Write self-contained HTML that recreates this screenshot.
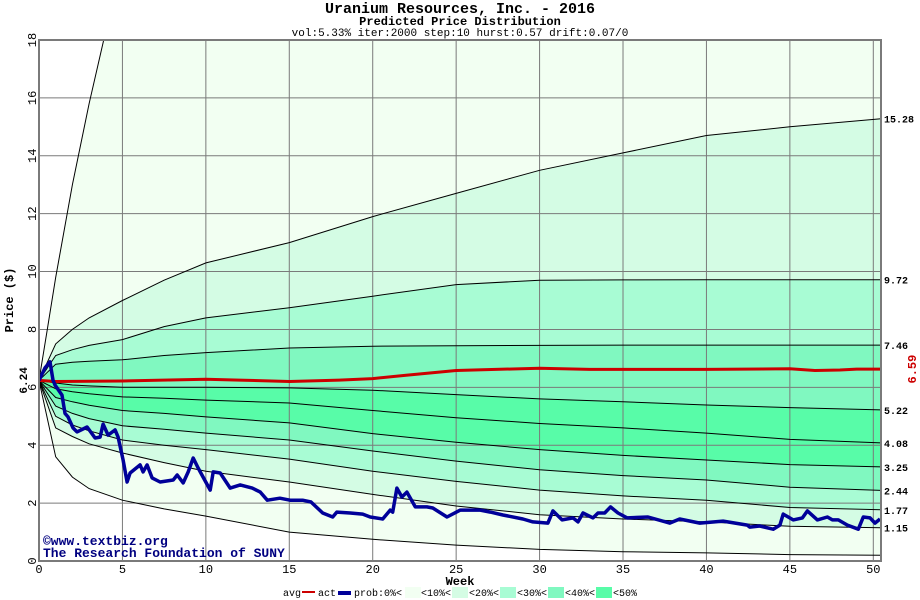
<!DOCTYPE html>
<html><head><meta charset="utf-8"><style>
html,body{margin:0;padding:0;background:#fff;}
svg{display:block;font-family:"Liberation Mono","DejaVu Sans Mono",monospace;}
</style></head><body>
<svg id="chart" width="920" height="600" viewBox="0 0 920 600">
<text x="460" y="13" text-anchor="middle" font-size="15" font-weight="bold">Uranium Resources, Inc. - 2016</text>
<text x="460" y="25" text-anchor="middle" font-size="12" font-weight="bold">Predicted Price Distribution</text>
<text x="460" y="36" text-anchor="middle" font-size="11">vol:5.33% iter:2000 step:10 hurst:0.57 drift:0.07/0</text>
<g id="bands"></g>
<g id="grid"></g>
<g id="curves"></g>
<g id="series"></g>
<g id="axes"></g>
<text transform="translate(13,300) rotate(-90)" text-anchor="middle" font-size="12" font-weight="bold">Price ($)</text>
<text x="460" y="585" text-anchor="middle" font-size="12" font-weight="bold">Week</text>
<text x="43" y="545" font-size="13" font-weight="bold" fill="#000080">©www.textbiz.org</text>
<text x="43" y="557" font-size="13" font-weight="bold" fill="#000080">The Research Foundation of SUNY</text>
<g id="legend"></g>
</svg>
<script>
// ---- data ----
const weeks = [0,1,2,3,5,7.5,10,15,20,25,30,35,40,45,50.5];
const c0Weeks = [0,0.5,1,2,3,4];
const c0Values = [6.24,8.0,9.8,13,15.8,18.3];
const c1Values = [6.24,7.5,8.0,8.4,9.0,9.7,10.3,11.0,11.9,12.7,13.5,14.1,14.7,15.0,15.28];
const c2Values = [6.24,7.1,7.3,7.45,7.65,8.1,8.4,8.75,9.15,9.55,9.7,9.71,9.72,9.72,9.72];
const c3Values = [6.24,6.8,6.87,6.9,6.95,7.1,7.2,7.36,7.42,7.44,7.45,7.46,7.46,7.46,7.46];
const l1Values = [6.24,6.15,6.08,6.05,6.0,6.0,6.0,5.98,5.9,5.75,5.6,5.5,5.39,5.3,5.22];
const l2Values = [6.24,5.95,5.85,5.78,5.67,5.62,5.56,5.46,5.2,4.95,4.75,4.6,4.42,4.2,4.08];
const l3Values = [6.24,5.65,5.5,5.38,5.2,5.1,4.98,4.77,4.4,4.1,3.85,3.65,3.49,3.33,3.25];
const l4Values = [6.24,5.35,5.1,4.92,4.67,4.55,4.42,4.18,3.8,3.45,3.15,2.95,2.8,2.55,2.44];
const l5Values = [6.24,5.0,4.7,4.5,4.18,4.0,3.85,3.52,3.1,2.75,2.45,2.25,2.1,1.85,1.77];
const l6Values = [6.24,4.6,4.3,4.05,3.73,3.4,3.1,2.73,2.3,1.9,1.6,1.45,1.35,1.2,1.15];
const l7Values = [6.24,3.6,2.9,2.5,2.1,1.8,1.55,1.0,0.75,0.55,0.4,0.32,0.28,0.22,0.2];
const avgWeeks = [0,1,5,10,12,15,18,20,22,25,30,33,35,40,45,46.5,48,49,50.5];
const avgValues = [6.24,6.2,6.22,6.28,6.25,6.2,6.25,6.3,6.42,6.58,6.66,6.62,6.62,6.62,6.64,6.58,6.6,6.63,6.63];
const actWeeks = [0,0.36,0.66,0.84,0.96,1.38,1.56,1.74,2.04,2.28,2.88,3.36,3.66,3.84,4.14,4.56,4.74,5.04,5.28,5.46,6.06,6.24,6.48,6.78,7.26,8.04,8.28,8.64,8.94,9.24,9.54,10.26,10.44,10.86,11.46,12.06,12.78,13.26,13.68,14.44,15.05,15.8,16.3,17.0,17.6,17.85,18.65,19.4,19.85,20.6,21.05,21.2,21.45,21.75,22.05,22.55,23.25,23.6,24.45,25.25,26.45,27.05,27.8,29.0,29.6,30.5,30.8,31.35,32.0,32.3,32.6,33.2,33.5,33.9,34.25,34.7,35.25,36.5,37.8,38.4,39.6,41.0,42.45,42.6,43.2,44.0,44.4,44.6,45.2,45.75,46.05,46.65,47.25,47.55,47.9,48.45,49.1,49.4,49.8,50.1,50.4];
const actValues = [6.24,6.67,6.88,6.25,6.08,5.73,5.1,4.98,4.6,4.46,4.63,4.25,4.28,4.73,4.35,4.53,4.28,3.49,2.73,3.04,3.32,3.08,3.32,2.87,2.73,2.8,2.97,2.7,3.08,3.56,3.21,2.45,3.08,3.04,2.52,2.63,2.52,2.38,2.1,2.17,2.1,2.1,2.04,1.66,1.52,1.69,1.66,1.62,1.52,1.45,1.76,1.69,2.52,2.21,2.38,1.87,1.87,1.83,1.52,1.76,1.76,1.69,1.59,1.45,1.35,1.31,1.73,1.42,1.49,1.35,1.66,1.49,1.66,1.66,1.87,1.66,1.49,1.52,1.31,1.45,1.31,1.38,1.24,1.17,1.21,1.1,1.24,1.62,1.42,1.49,1.73,1.42,1.52,1.42,1.42,1.24,1.1,1.52,1.49,1.31,1.45];
const endLabels = ["15.28","9.72","7.46","5.22","4.08","3.25","2.44","1.77","1.15"];
const endValues = [15.28,9.72,7.46,5.22,4.08,3.25,2.44,1.77,1.15];
const xTicks = [0,5,10,15,20,25,30,35,40,45,50];
const yTicks = [0,2,4,6,8,10,12,14,16,18];
const legendLabels = ["0%<","<10%<","<20%<","<30%<","<40%<","<50%"];
const bandColors = ["#f2fff2","#d4fce4","#a8fcd4","#80f8c0","#58fca8"];

// ---- axes ----
const X0=39, X1=881, Y0=561, Y1=40;
const xs = w => X0 + w*(873.3-X0)/50;
const ys = v => Y0 - v*(Y0-Y1)/18;
const NS="http://www.w3.org/2000/svg";
function mk(tag, parent, attrs){const e=document.createElementNS(NS,tag);for(const k in attrs)e.setAttribute(k,attrs[k]);parent.appendChild(e);return e;}
function pts(wArr,vArr){return wArr.map((w,i)=>xs(w).toFixed(1)+","+ys(vArr[i]).toFixed(1));}

const bands=document.getElementById('bands');
const defs=mk('defs',document.getElementById('chart'),{});
const cp=mk('clipPath',defs,{id:'plotclip'});
mk('rect',cp,{x:X0,y:Y1,width:X1-X0,height:Y0-Y1});
bands.setAttribute('clip-path','url(#plotclip)');
document.getElementById('curves').setAttribute('clip-path','url(#plotclip)');
document.getElementById('series').setAttribute('clip-path','url(#plotclip)');

const c0Poly = pts(c0Weeks,c0Values).concat([xs(4.5)+","+ys(19), xs(51)+","+ys(19)]);
const curveSet=[c1Values,c2Values,c3Values,l1Values,l2Values,l3Values,l4Values,l5Values,l6Values,l7Values];
const bandColorIdx=[0,1,2,3,4,4,3,2,1,0];
function polyBetween(upperPts, lowerVals){
  const low=pts(weeks,lowerVals).reverse();
  return upperPts.concat(low).join(" ");
}
let upper=c0Poly;
for(let i=0;i<curveSet.length;i++){
  const p=mk('polygon',bands,{points:polyBetween(upper,curveSet[i]),fill:bandColors[bandColorIdx[i]],stroke:'none'});
  
  
  upper=pts(weeks,curveSet[i]);
}

const grid=document.getElementById('grid');
xTicks.forEach(t=>{const l=mk('line',grid,{x1:xs(t),x2:xs(t),y1:Y1,y2:Y0,stroke:'#7a7a7a','stroke-width':1});
  
  });
yTicks.forEach(t=>{const l=mk('line',grid,{x1:X0,x2:X1,y1:ys(t),y2:ys(t),stroke:'#7a7a7a','stroke-width':1});
  
  });

const curves=document.getElementById('curves');
const c0=mk('polyline',curves,{points:pts(c0Weeks,c0Values).join(" "),fill:'none',stroke:'#000','stroke-width':1});


curveSet.forEach((vals,i)=>{
  const c=mk('polyline',curves,{points:pts(weeks,vals).join(" "),fill:'none',stroke:'#000','stroke-width':1});
  
  
});

const series=document.getElementById('series');
const avg=mk('polyline',series,{points:pts(avgWeeks,avgValues).join(" "),fill:'none',stroke:'#cc0000','stroke-width':3});


const act=mk('polyline',series,{points:pts(actWeeks,actValues).join(" "),fill:'none',stroke:'#000099','stroke-width':3.5,'stroke-linejoin':'round'});



const axes=document.getElementById('axes');
const frame=mk('rect',axes,{x:X0,y:Y1,width:X1-X0,height:Y0-Y1,fill:'none',stroke:'#7a7a7a','stroke-width':2});


xTicks.forEach(t=>{const tx=mk('text',axes,{x:xs(t),y:573,'text-anchor':'middle','font-size':12});
  tx.textContent=t;
  
  });
yTicks.forEach(t=>{const tx=mk('text',axes,{transform:'translate(36,'+ys(t)+') rotate(-90)','text-anchor':'middle','font-size':12});
  tx.textContent=t;
  
  });
endValues.forEach((v,i)=>{const tx=mk('text',axes,{x:884,y:ys(v)+4,'font-size':10,'font-weight':'bold'});
  tx.textContent=endLabels[i];
  
  });
const startL=mk('text',axes,{transform:'translate(27,'+ys(6.24)+') rotate(-90)','text-anchor':'middle','font-size':11,'font-weight':'bold'});
startL.textContent='6.24';


const avgL=mk('text',axes,{transform:'translate(916,'+ys(6.63)+') rotate(-90)','text-anchor':'middle','font-size':12,'font-weight':'bold',fill:'#cc0000'});
avgL.textContent='6.59';



const lg=document.getElementById('legend');
const ly=596;
function ltext(s,x){const t=mk('text',lg,{x:x,y:ly,'font-size':10});t.textContent=s;return t;}
let t=ltext('avg',283);  
let r=mk('rect',lg,{x:302,y:591,width:13,height:2,fill:'#cc0000'});


t=ltext('act',318);  
r=mk('rect',lg,{x:338,y:591,width:13,height:4,fill:'#000099'});


t=ltext('prob:0%<',354);  
const swX=[405,452,500,548,596];
const lblX=[421,469,517,565,613];
for(let i=0;i<5;i++){
  const s=mk('rect',lg,{x:swX[i],y:587,width:16,height:11,fill:bandColors[i]});
  
  
  const tt=ltext(legendLabels[i+1],lblX[i]);
  
  
}
</script>
</body></html>
